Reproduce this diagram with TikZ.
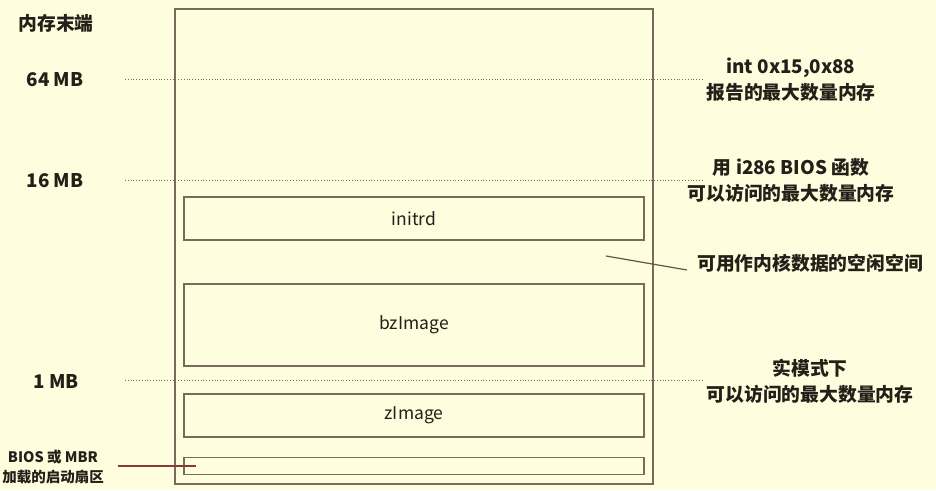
\documentclass[tikz,border=0pt]{standalone}
\usepackage{fontspec}
\setmainfont{Noto Sans CJK SC}
\usetikzlibrary{positioning}

\definecolor{paper}{RGB}{254,253,221}
\definecolor{frame}{RGB}{122,106,92}
\definecolor{ink}{RGB}{38,30,24}
\definecolor{pointer}{RGB}{138,58,52}

\begin{document}
\begin{tikzpicture}[x=1pt, y=-1pt,
	label/.style = {text=ink, font=\fontsize{18.8}{26}\selectfont\bfseries, align=center, inner sep=0pt},
	small/.style = {text=ink, font=\fontsize{14.5}{20}\selectfont\bfseries, align=center, inner sep=0pt},
	block/.style = {draw=frame, line width=1.8pt, text=ink, font=\fontsize{17.5}{20}\selectfont,
		minimum width=460pt, inner sep=0pt},
	limit/.style = {draw=frame, dotted, line width=0.8pt}]
	%\draw[help lines] (0,0) grid[step=50] (936,490);
	\fill[paper] (0,0) rectangle (936,490);
	\useasboundingbox (0,0) rectangle (936,490);

	% memory column
	\draw[frame, line width=1.5pt] (175,9) rectangle (653,484);
	\node[block, minimum height=43pt] (initrd) at (414,218.5) {initrd};
	\node[block, minimum height=82pt] (bzimage) at (414,325) {bzImage};
	\node[block, minimum height=43pt] (zimage) at (414,415.5) {zImage};
	\node[block, minimum height=17pt] (bootsect) at (414,466) {};

	% limits
	\draw[limit] (125,79) -- (703,79);
	\draw[limit] (125,180) -- (703,180);
	\draw[limit] (125,380) -- (703,380);

	% left side
	\node[label] (top) at (56,23) {内存末端};
	\node[label] (mb64) at (55,80) {64 MB};
	\node[label] (mb16) at (55,181) {16 MB};
	\node[label] (mb1) at (56,381) {1 MB};
	\node[small] (bios) at (53,467) {BIOS 或 MBR\\加载的启动扇区};

	% right side
	\node[label] (e820) at (791,80) {int 0x15,0x88\\报告的最大数量内存};
	\node[label] (i286) at (791,180) {用 i286 BIOS 函数\\可以访问的最大数量内存};
	\node[label] (free) at (810,263) {可用作内核数据的空闲空间};
	\node[label] (real) at (810,381) {实模式下\\可以访问的最大数量内存};

	\coordinate (gap) at (606,256);
	\draw[frame!80!black, line width=1.2pt] ([xshift=-10pt, yshift=-7pt]free.west) -- (gap);
	\draw[pointer, line width=1.2pt] ([xshift=14pt]bios.east |- bootsect.west) -- ([xshift=13pt]bootsect.west);
\end{tikzpicture}
\end{document}
